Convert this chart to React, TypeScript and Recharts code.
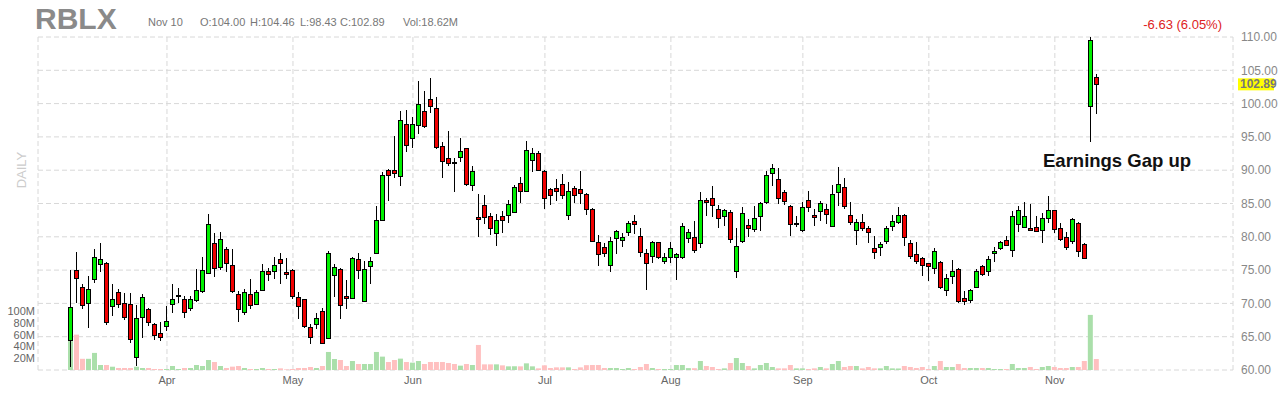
import React from "react";
import { Bar, CartesianGrid, Cell, ComposedChart, ReferenceLine, XAxis, YAxis } from "recharts";

// daily OHLC, Mar 10 -> Nov 10 (one entry per trading day)
const OPEN = [
  64.5, 75.0, 72.5, 70.1, 73.7, 76.0, 76.0, 69.5, 71.7, 70.1, 69.9, 62.0, 68.0, 69.1, 66.9, 65.6,
  66.7, 70.0, 71.2, 70.7, 69.3, 70.5, 71.9, 74.6, 79.1, 75.5, 78.1, 75.8, 71.45, 68.7, 71.45, 69.95, 72.1, 74.8,
  74.75, 76.7, 74.75, 74.95, 71.0, 70.6, 66.5, 66.9, 68.85, 64.85, 74.2, 75.2, 71.1, 70.85, 76.7, 70.45, 75.6, 77.5,
  82.55, 90.0, 90.0, 89.17, 96.93, 94.78, 96.83, 98.84, 100.69, 99.29, 93.58, 91.77, 91.17, 91.92, 93.28, 87.72, 82.9,
  84.78, 83.13, 80.57, 83.13, 83.28, 83.73, 88.14, 86.98, 91.49, 92.6, 89.89, 87.18, 87.33, 87.98, 83.28, 87.33, 87.18, 86.43,
  84.17, 79.15, 78.54, 75.78, 79.85, 79.55, 80.65, 82.31, 80.05, 77.64, 76.98, 79.15, 76.43, 77.04, 77.04, 77.04, 79.75,
  79.9, 79.0, 85.53, 85.78, 84.12, 83.07, 83.67, 74.92, 79.3, 81.76, 81.11, 83.02, 85.18, 89.55, 88.64, 86.68, 84.57, 81.9,
  80.9, 85.53, 83.22, 83.77, 84.17, 81.66, 86.68, 87.44, 83.27, 80.9, 82.21, 81.31, 78.29, 78.39, 79.3, 81.56, 82.16,
  83.29, 79.07, 77.36, 76.76, 76.0, 75.35, 76.16, 72.04, 74.0, 75.15, 70.78, 70.53, 72.34, 75.55, 74.9, 77.51, 78.27, 79.47,
  78.04, 81.85, 81.55, 81.25, 81.4, 80.95, 82.76, 83.96, 81.25, 79.9, 79.29, 82.05, 78.99, 99.61, 104.0,
];
const HIGH = [
  74.94, 77.76, 72.95, 74.1, 78.1, 79.0, 76.2, 72.85, 72.2, 71.6, 71.6, 69.7, 71.35, 69.3, 67.0, 67.2,
  69.6, 72.85, 72.35, 71.1, 71.1, 75.1, 77.0, 83.4, 80.6, 80.7, 78.5, 78.2, 71.85, 72.2, 73.7, 71.95, 75.95, 75.35,
  77.0, 77.6, 76.85, 75.1, 71.7, 70.6, 66.85, 68.6, 69.3, 77.85, 75.95, 75.35, 73.45, 76.9, 77.6, 76.35, 77.0, 84.6,
  89.67, 90.17, 95.08, 98.94, 99.04, 97.94, 103.35, 101.94, 103.8, 100.94, 94.18, 95.93, 91.77, 94.78, 93.3, 90.67, 86.5,
  86.33, 83.63, 83.48, 83.88, 85.58, 87.83, 88.99, 94.35, 93.35, 92.85, 89.99, 87.33, 88.64, 89.49, 88.24, 87.58, 89.84, 86.58,
  84.27, 80.3, 79.05, 80.0, 81.0, 80.55, 82.41, 83.27, 81.26, 78.24, 79.4, 79.25, 77.64, 79.15, 77.5, 82.06, 81.16,
  82.41, 86.68, 85.78, 87.59, 84.77, 84.17, 84.07, 81.26, 84.42, 82.66, 84.57, 85.28, 89.95, 90.95, 90.3, 87.04, 84.77, 83.17,
  85.18, 86.83, 84.17, 85.43, 84.92, 87.79, 90.45, 88.79, 85.18, 82.66, 83.37, 81.56, 80.05, 79.15, 81.56, 83.27, 84.42,
  83.44, 79.57, 79.17, 76.91, 76.06, 78.27, 76.41, 74.4, 76.51, 75.25, 71.88, 72.14, 75.15, 75.75, 77.16, 78.42, 79.42, 80.18,
  83.91, 84.66, 85.16, 84.91, 83.06, 83.56, 86.07, 84.06, 82.05, 80.65, 82.8, 82.15, 79.0, 110.0, 104.46,
];
const LOW = [
  60.5, 70.1, 69.2, 66.3, 73.1, 74.7, 66.7, 68.1, 69.3, 67.5, 64.1, 60.6, 64.8, 66.6, 64.5, 64.3,
  65.8, 68.6, 70.1, 67.8, 68.8, 70.2, 71.5, 74.35, 74.0, 75.0, 74.7, 71.6, 67.2, 68.3, 69.1, 69.7, 71.85, 73.35,
  73.6, 72.85, 73.6, 70.7, 67.7, 66.3, 63.85, 66.1, 64.0, 64.6, 71.0, 67.7, 69.2, 70.6, 73.6, 70.25, 72.95, 77.35,
  82.4, 85.4, 88.77, 87.57, 92.68, 93.28, 95.43, 96.33, 98.54, 93.18, 88.77, 90.57, 86.8, 91.17, 87.57, 86.82, 79.9,
  81.97, 80.22, 78.62, 80.57, 82.07, 83.63, 85.13, 86.88, 89.74, 89.84, 84.23, 84.83, 85.33, 85.73, 82.48, 85.13, 84.93, 83.33,
  79.15, 75.63, 77.04, 74.77, 77.49, 78.4, 80.05, 80.4, 77.04, 71.96, 76.13, 76.63, 75.98, 76.13, 73.47, 76.63, 79.05,
  77.64, 78.39, 83.17, 82.91, 81.26, 81.56, 79.05, 73.87, 79.05, 79.9, 80.65, 80.9, 84.92, 87.69, 84.92, 84.77, 80.05, 81.41,
  80.65, 83.67, 81.56, 82.41, 81.86, 81.56, 84.57, 84.17, 81.76, 78.79, 80.9, 79.0, 76.73, 77.14, 78.89, 80.9, 81.91,
  78.67, 76.66, 75.9, 74.15, 73.39, 74.4, 72.14, 71.13, 72.89, 70.13, 69.77, 70.13, 72.24, 74.05, 74.15, 76.26, 78.07, 78.57,
  77.04, 80.75, 81.25, 80.9, 80.65, 79.14, 82.05, 80.55, 79.39, 78.04, 78.89, 77.04, 76.83, 94.3, 98.43,
];
const CLOSE = [
  69.5, 73.85, 69.8, 72.2, 77.0, 76.7, 67.2, 70.6, 69.9, 68.0, 64.6, 67.8, 71.0, 67.1, 65.2, 65.0,
  67.4, 70.7, 71.3, 68.7, 70.7, 71.95, 75.05, 81.97, 75.35, 79.7, 76.0, 71.95, 69.2, 71.7, 69.8, 71.75, 74.9, 74.3,
  75.7, 76.1, 74.5, 71.1, 69.7, 66.5, 65.0, 67.8, 64.1, 77.6, 75.45, 69.75, 70.8, 76.85, 75.05, 75.2, 76.3, 82.5,
  89.27, 89.2, 89.6, 97.53, 93.83, 96.93, 99.94, 96.53, 99.59, 93.43, 91.33, 91.02, 90.97, 92.83, 87.82, 89.82, 82.6,
  82.98, 81.32, 82.57, 82.48, 84.93, 87.48, 86.98, 93.1, 92.6, 89.99, 85.83, 86.28, 86.93, 86.38, 86.88, 86.23, 86.58, 84.18,
  79.3, 77.29, 77.59, 79.35, 80.85, 79.95, 82.06, 81.81, 77.64, 76.13, 79.15, 76.88, 77.04, 78.39, 77.49, 81.66, 80.65,
  77.89, 85.53, 85.18, 84.67, 82.76, 84.02, 79.65, 78.69, 83.52, 81.36, 82.76, 85.03, 89.25, 90.3, 85.78, 85.33, 81.86, 82.0,
  84.42, 84.52, 82.86, 85.03, 83.47, 86.43, 87.94, 84.57, 82.26, 82.16, 81.31, 80.75, 77.74, 78.89, 81.31, 82.36, 83.22,
  80.03, 77.06, 76.26, 75.65, 75.5, 77.86, 72.39, 73.79, 74.8, 70.38, 70.28, 71.98, 74.8, 74.3, 76.66, 77.86, 79.17, 78.67,
  83.16, 83.96, 83.16, 80.95, 80.8, 82.76, 83.96, 81.05, 79.54, 78.39, 82.65, 77.89, 76.93, 109.52, 102.89,
];
// volume in millions
const VOLUME = [
  49, 60, 19, 19, 29, 8.5, 8.5, 5.6, 3.4, 3.4, 3.4, 5.6, 3.4, 3.4, 1.7, 1.7,
  1.7, 6.8, 1.7, 3.4, 3.4, 8.5, 6.8, 17, 13.6, 6.8, 3.4, 5.7, 6.8, 3.4, 1.7, 1.7, 3.4, 1.7,
  1.7, 2.8, 1.0, 1.7, 3.4, 3.4, 5.1, 3.4, 6.8, 30.6, 18.7, 17, 6.8, 15.3, 10.2, 10.2, 10.2, 30.6,
  22.7, 13.6, 17, 19.3, 13.6, 12.5, 15.3, 10.2, 13.6, 13.6, 13.6, 11.9, 10.2, 7.4, 10.2, 8.5, 42.5,
  9.6, 9.6, 9.6, 7.9, 6.2, 6.2, 6.2, 11.3, 6.2, 2.8, 7.9, 3.4, 4.5, 4.5, 4.5, 1.7, 4.5, 8.2,
  8.5, 8.5, 3.4, 3.4, 3.4, 1.7, 3.4, 1.7, 5.1, 10.2, 3.4, 1.7, 1.7, 1.7, 8.5, 8.5, 3.2,
  3.1, 15.3, 6.8, 5.1, 1.7, 2.8, 11.9, 20.4, 11.9, 6.8, 2.8, 8.5, 11.9, 5.1, 2.8, 2.8, 8.5, 2.8,
  2.8, 1.7, 2.8, 5.1, 2.8, 10.2, 15.3, 5.1, 6.8, 6.8, 2.8, 5.1, 2.8, 2.8, 6.8, 2.8, 2.6,
  6.8, 5.1, 3.4, 5.1, 1.7, 6.8, 15.3, 5.1, 5.1, 10.2, 3.4, 3.4, 3.4, 3.4, 3.4, 1.7, 1.7, 1.7,
  10.2, 3.4, 3.4, 5.1, 1.7, 5.1, 6.8, 5.1, 3.4, 3.4, 5.1, 5.1, 15.3, 93.5, 18.62,
];

const MONTH_TICKS = [16, 37, 57, 79, 100, 122, 143, 164];
const MONTH_LABELS = ["Apr", "May", "Jun", "Jul", "Aug", "Sep", "Oct", "Nov"];
const PRICE_TICKS = [60, 65, 70, 75, 80, 85, 90, 95, 100, 105, 110];
const VOLUME_TICKS = [20, 40, 60, 80, 100];

const UP = "#00f000";
const DOWN = "#f00000";
const VOL_UP = "#aadfaa";
const VOL_DOWN = "#ffc0c0";
const FONT = "'Liberation Sans', Arial, sans-serif";

const rows = OPEN.map((o, i) => ({
  i,
  o,
  h: HIGH[i],
  l: LOW[i],
  c: CLOSE[i],
  v: VOLUME[i],
}));
const last = rows[rows.length - 1];

function Candle(props: any) {
  const { x, y, width, height, payload } = props;
  if (x == null || y == null || !payload) return null;
  const top = Math.min(y, y + height);
  const span = Math.abs(height);
  const { o, h, l, c } = payload;
  const k = h - l > 0 ? span / (h - l) : 0;
  const yO = top + (h - o) * k;
  const yC = top + (h - c) * k;
  const cx = Math.round(x + width / 2);
  const bodyTop = Math.round(Math.min(yO, yC));
  const bodyH = Math.max(1, Math.round(Math.abs(yO - yC)));
  return (
    <g>
      <line x1={cx + 0.5} x2={cx + 0.5} y1={Math.round(top)} y2={Math.round(top + span)} stroke="#000" />
      <rect x={cx - 1.5} y={bodyTop + 0.5} width={4} height={bodyH} fill={c >= o ? UP : DOWN} stroke="#000" />
    </g>
  );
}

function PriceTag(props: any) {
  const vb = props.viewBox;
  if (!vb) return null;
  const x = vb.x + vb.width + 5;
  const y = vb.y;
  return (
    <g>
      <rect x={x} y={y - 6} width={36} height={12} fill="#ffff00" />
      <text x={x + 2} y={y + 4} fontSize={12} fontWeight="bold" fill="#777" fontFamily={FONT}>
        {last.c.toFixed(2)}
      </text>
    </g>
  );
}

export default function App() {
  return (
    <div style={{ position: "absolute", left: 0, top: 0, width: 1280, height: 400, background: "#fff", fontFamily: FONT }}>
      <ComposedChart width={1280} height={400} data={rows} margin={{ top: 37, right: 0, bottom: 0, left: 0 }}>
        <CartesianGrid xAxisId="p" yAxisId="p" stroke="#d8d8d8" strokeDasharray="5 3" />
        <XAxis
          xAxisId="p"
          type="number"
          dataKey="i"
          domain={[-5.5, 193.7]}
          allowDataOverflow
          ticks={MONTH_TICKS}
          interval={0}
          tickFormatter={(v: number) => MONTH_LABELS[MONTH_TICKS.indexOf(v)]}
          tick={{ fontSize: 11, fill: "#666", fontFamily: FONT }}
          axisLine={false}
          tickLine={false}
          tickSize={0}
          tickMargin={6}
          height={30}
        />
        <XAxis xAxisId="v" type="number" dataKey="i" domain={[-5.5, 193.7]} allowDataOverflow ticks={MONTH_TICKS} hide />
        <YAxis
          yAxisId="p"
          orientation="right"
          domain={[60, 110]}
          allowDataOverflow
          ticks={PRICE_TICKS}
          interval={0}
          tickFormatter={(v: number) => v.toFixed(2)}
          tick={{ fontSize: 12, fill: "#888", fontFamily: FONT }}
          axisLine={false}
          tickLine={false}
          width={47}
        />
        <YAxis
          yAxisId="v"
          orientation="left"
          domain={[0, 565]}
          allowDataOverflow
          ticks={VOLUME_TICKS}
          interval={0}
          tickFormatter={(v: number) => `${v}M`}
          tick={{ fontSize: 11, fill: "#666", fontFamily: FONT }}
          axisLine={false}
          tickLine={false}
          tickSize={0}
          tickMargin={3}
          width={38}
        />
        <Bar xAxisId="v" yAxisId="v" dataKey="v" barSize={5} isAnimationActive={false}>
          {rows.map((r) => (
            <Cell key={r.i} fill={r.c >= r.o ? VOL_UP : VOL_DOWN} />
          ))}
        </Bar>
        <Bar
          xAxisId="p"
          yAxisId="p"
          dataKey={(d: any) => [d.l, d.h]}
          barSize={5}
          shape={<Candle />}
          isAnimationActive={false}
        />
        <ReferenceLine xAxisId="p" yAxisId="p" y={last.c} stroke="none" label={<PriceTag />} />
      </ComposedChart>

      <svg width={1280} height={400} style={{ position: "absolute", left: 0, top: 0, pointerEvents: "none" }} fontFamily={FONT}>
        <text x={35} y={29} fontSize={30} fontWeight="bold" fill="#8a8a8a">RBLX</text>
        <text x={148} y={26} fontSize={11} fill="#777">Nov 10</text>
        <text x={200} y={26} fontSize={11} fill="#777">O:104.00</text>
        <text x={250} y={26} fontSize={11} fill="#777">H:104.46</text>
        <text x={300} y={26} fontSize={11} fill="#777">L:98.43</text>
        <text x={340} y={26} fontSize={11} fill="#777">C:102.89</text>
        <text x={403} y={26} fontSize={11} fill="#777">Vol:18.62M</text>
        <text x={1222} y={29} fontSize={13} fill="#dd2222" textAnchor="end">-6.63 (6.05%)</text>
        <text x={26} y={170} fontSize={13} fill="#cccccc" textAnchor="middle" transform="rotate(-90 26 170)">DAILY</text>
        <text x={1043} y={167} fontSize={18.5} fontWeight="bold" fill="#111">Earnings Gap up</text>
      </svg>
    </div>
  );
}
